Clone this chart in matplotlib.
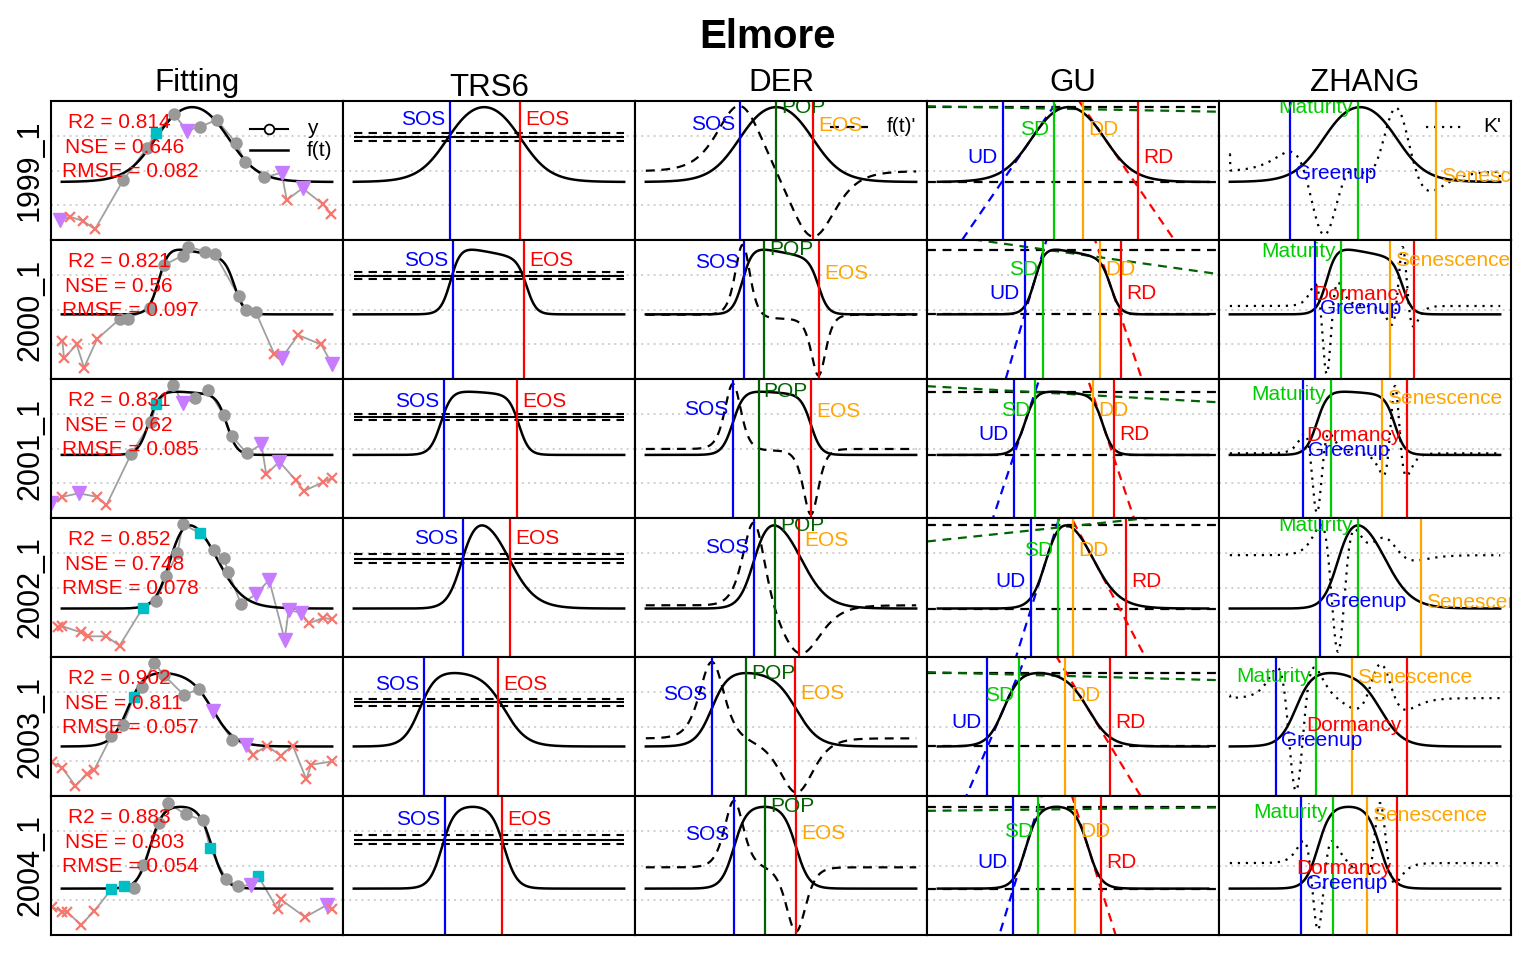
import numpy as np
import matplotlib
matplotlib.use("Agg")
import matplotlib.pyplot as plt
from matplotlib.transforms import offset_copy

plt.rcParams["font.family"] = ["Liberation Sans", "DejaVu Sans"]

years = ["1999_1", "2000_1", "2001_1", "2002_1", "2003_1", "2004_1"]
methods = ["Fitting", "TRS6", "DER", "GU", "ZHANG"]

# Elmore double-logistic parameters, one value per season
mn = [0.334, 0.372, 0.363, 0.279, 0.285, 0.267]
mx = [0.512, 0.400, 0.377, 0.585, 0.445, 0.478]
sos = [127.0, 131.0, 117.7, 146.0, 89.4, 119.0]
rsp = [20.0, 6.7, 7.3, 10.0, 11.0, 8.5]
eos = [225.0, 233.5, 223.0, 209.0, 204.0, 202.8]
rau = [20.0, 6.5, 6.8, 18.0, 15.0, 8.8]
m7 = [0.0, 0.0008, 0.0003, 0.0, 0.00025, 0.0]

# goodness of fit
r2 = ["0.814", "0.821", "0.831", "0.852", "0.902", "0.883"]
nse = ["0.646", "0.56", "0.62", "0.748", "0.811", "0.803"]
rmse = ["0.082", "0.097", "0.085", "0.078", "0.057", "0.054"]

# observations (day in season, value, qc: G good, M marginal, S snow, C cloud)
obs_t = [
    [-2, 11, 29, 44.8, 83, 114.6, 127, 151.5, 168.6, 186.6, 209, 235, 247.3,
     273.4, 296.8, 303.6, 325, 352, 364],
    [0.8, 3, 20, 30, 47.6, 78, 89, 119, 138, 163, 171, 193.5, 207, 238.6,
     248.5, 262, 287, 297, 319, 350, 365],
    [-14.6, 0.8, 22.8, 47.6, 60.3, 93.3, 120.8, 127.4, 150.6, 163.2, 179.7,
     197.9, 218.3, 229.3, 249.7, 269.5, 276, 293.7, 315.7, 326.7, 352, 365],
    [-4.7, 0.8, 25.6, 35.5, 60.3, 77.9, 109.3, 127.4, 141.2, 156, 163.2, 186.9,
     205.6, 218.3, 224.9, 242, 262.3, 279.9, 300.8, 306.3, 322.9, 333.8, 353,
     365.2],
    [-13, 0.8, 18.4, 33.9, 43.8, 66.9, 82.3, 97.2, 108.2, 124.7, 137.4, 164.9,
     185.3, 204.5, 229.3, 248.5, 258.4, 277.1, 295.3, 311.8, 330, 336.6, 365.2],
    [-13, 0, 7.4, 25.6, 43.8, 66.9, 84.5, 97.2, 109.8, 131.8, 142.8, 167.1,
     190.7, 200.1, 222.1, 237.5, 255.1, 265, 291.5, 295.3, 328.4, 357.6, 365.2],
]
obs_y = [
    [0.115, 0.134, 0.109, 0.062, 0.345, 0.528, 0.618, 0.725, 0.629, 0.652,
     0.691, 0.560, 0.451, 0.361, 0.387, 0.230, 0.298, 0.207, 0.150],
    [0.218, 0.119, 0.199, 0.065, 0.230, 0.345, 0.345, 0.410, 0.656, 0.710,
     0.762, 0.733, 0.717, 0.478, 0.395, 0.383, 0.142, 0.122, 0.253, 0.199, 0.084],
    [0.084, 0.122, 0.142, 0.122, 0.074, 0.366, 0.554, 0.654, 0.765, 0.660,
     0.689, 0.737, 0.593, 0.472, 0.372, 0.424, 0.251, 0.324, 0.218, 0.155,
     0.205, 0.232],
    [0.174, 0.177, 0.142, 0.119, 0.119, 0.065, 0.282, 0.323, 0.465, 0.596,
     0.765, 0.712, 0.615, 0.570, 0.489, 0.304, 0.362, 0.444, 0.100, 0.269,
     0.255, 0.193, 0.226, 0.216],
    [0.193, 0.160, 0.058, 0.128, 0.151, 0.345, 0.407, 0.567, 0.626, 0.767,
     0.697, 0.581, 0.616, 0.490, 0.325, 0.296, 0.238, 0.290, 0.232, 0.290,
     0.097, 0.180, 0.199],
    [0.161, 0.134, 0.134, 0.057, 0.138, 0.263, 0.282, 0.272, 0.403, 0.646,
     0.762, 0.694, 0.660, 0.499, 0.320, 0.282, 0.287, 0.339, 0.147, 0.205,
     0.103, 0.172, 0.147],
]
obs_qc = [
    "SCCCGGMGSGGGGGSCSCC",
    "CCCCCGGGGGGGGGGGCSCCS",
    "SCSCCGGMGSGGGGGSCSCCCC",
    "CCCCCCMGGGGMGGGGSSSSSCCC",
    "CCCCCGGMGGGGGSGSCCCCCCC",
    "CCCCCMMGGGGGGMGGSMCCCSC",
]

# phenological dates
trs_sos = [129.9, 134.2, 121.5, 148.0, 94.5, 123.1]
trs_eos = [224.4, 230.0, 220.7, 211.3, 194.7, 200.3]
der_sos = [127.2, 132.6, 117.7, 146.0, 89.4, 119.0]
der_pop = [175.8, 159.6, 152.4, 174.4, 135.3, 160.7]
der_eos = [225.7, 233.8, 223.0, 206.7, 201.3, 203.0]
gu_ud = [88.0, 117.7, 102.9, 125.8, 66.4, 101.5]
gu_sd = [156.9, 142.0, 131.2, 162.3, 109.6, 135.3]
gu_dd = [196.0, 219.0, 209.5, 182.5, 171.7, 185.2]
gu_rd = [270.0, 247.3, 237.9, 254.1, 232.4, 220.3]
zh_greenup = [81.3, 115.0, 98.8, 121.8, 62.4, 96.1]
zh_maturity = [173.0, 150.0, 136.6, 173.0, 116.4, 139.3]
zh_senescence = [278.4, 216.3, 205.5, 258.1, 165.0, 185.0]
zh_dormancy = [np.nan, 248.7, 239.2, np.nan, 239.2, 225.7]

QC_STYLE = {
    "G": dict(marker="o", color="#999999", ms=8, ls="none"),
    "M": dict(marker="s", color="#00BFC4", ms=6.8, ls="none"),
    "S": dict(marker="v", color="#C77CFF", ms=9.5, ls="none"),
    "C": dict(marker="x", color="#F8766D", ms=7.5, mew=1.6, ls="none"),
}
DASH = (0, (4, 3))
DOT = (0, (1, 2.6))
GREEN3 = "#00CD00"
DKGREEN = "#006400"
ORANGE = "#FFA500"

W, H = 1536, 960
fig = plt.figure(figsize=(W / 100, H / 100), dpi=100)
col_x = [51, 343, 635, 927, 1219]
row_y = [101, 240, 379, 518, 657, 796]
pw, ph = 292, 139
xlim = (-14.6, 379.6)
t = np.linspace(0, 365, 1461)


def elmore(tt, i):
    amp = mx[i] - m7[i] * (tt - sos[i])
    up = 1 / (1 + np.exp(-(tt - sos[i]) / rsp[i]))
    down = 1 / (1 + np.exp(-(tt - eos[i]) / rau[i]))
    return mn[i] + amp * (up - down)


def rescale(v, lo, hi):
    return lo + (v - v.min()) / (v.max() - v.min()) * (hi - lo)


def panel(r, c):
    ax = fig.add_axes([col_x[c] / W, 1 - (row_y[r] + ph) / H, pw / W, ph / H])
    ax.set_xlim(xlim)
    ax.set_ylim(0, 0.8)
    ax.set_xticks([])
    ax.set_yticks([])
    for s in ax.spines.values():
        s.set_linewidth(1.5)
        s.set_zorder(8)
    for g in (0.2, 0.4, 0.6):
        ax.axhline(g, color="#c8c8c8", lw=1.2, ls=(0, (1.2, 2.5)), zorder=0)
    return ax


def label(ax, x, y, s, color, side):
    tr = offset_copy(ax.transData, fig=fig, x=3.6 * side, y=0, units="points")
    ax.text(x, y, s, color=color, fontsize=15, ha="right" if side < 0 else "left",
            va="center", transform=tr, clip_on=True, zorder=6)


def vline(ax, x, color):
    ax.axvline(x, color=color, lw=1.6, zorder=4)


for r in range(6):
    f = elmore(t, r)
    d1 = np.gradient(f, t)
    d2 = np.gradient(d1, t)
    k = d2 / (1 + d1 ** 2) ** 1.5
    dk = np.gradient(k, t)
    base, top = f.min(), f.max()
    A = top - base
    fy = lambda d: np.interp(d, t, f)

    # --- Fitting
    ax = panel(r, 0)
    ax.plot(obs_t[r], obs_y[r], color="#a0a0a0", lw=1.3, zorder=2)
    ax.plot(t, f, color="k", lw=1.8, zorder=3)
    qc = np.array(list(obs_qc[r]))
    tt, yy = np.array(obs_t[r]), np.array(obs_y[r])
    for q, st in QC_STYLE.items():
        m = qc == q
        ax.plot(tt[m], yy[m], zorder=5, **st)
    for x, y, s in [(0.058, 0.842, "R2 = " + r2[r]),
                    (0.048, 0.662, "NSE = " + nse[r]),
                    (0.038, 0.49, "RMSE = " + rmse[r])]:
        ax.text(x, y, s, transform=ax.transAxes, color="red", fontsize=15,
                ha="left", va="center", zorder=10)
    if r == 0:
        ax.plot([0.682, 0.812], [0.80, 0.80], color="k", lw=1.5, transform=ax.transAxes)
        ax.plot([0.747], [0.80], "o", mfc="white", mec="k", ms=7, mew=1.3,
                transform=ax.transAxes)
        ax.plot([0.682, 0.812], [0.645, 0.645], color="k", lw=1.8, transform=ax.transAxes)
        ax.text(0.877, 0.80, "y", transform=ax.transAxes, fontsize=15, va="center")
        ax.text(0.877, 0.645, "f(t)", transform=ax.transAxes, fontsize=15, va="center")

    # --- TRS6
    ax = panel(r, 1)
    ax.plot(t, f, color="k", lw=1.8, zorder=3)
    trs = base + 0.6 * A
    ax.hlines(trs, t[0], t[-1], color="k", lw=1.5, zorder=3)
    ax.hlines([trs - 0.05 * A, trs + 0.05 * A], t[0], t[-1], color="k", lw=1.5,
              linestyles=[DASH], zorder=3)
    vline(ax, trs_sos[r], "blue")
    vline(ax, trs_eos[r], "red")
    label(ax, trs_sos[r], base + 0.84 * A, "SOS", "blue", -1)
    label(ax, trs_eos[r], base + 0.84 * A, "EOS", "red", 1)

    # --- DER
    ax = panel(r, 2)
    ax.plot(t, f, color="k", lw=1.8, zorder=3)
    ax.plot(t, rescale(d1, 0.02, 0.772), color="k", lw=1.6, ls=DASH, zorder=3)
    vline(ax, der_sos[r], "blue")
    vline(ax, der_pop[r], DKGREEN)
    vline(ax, der_eos[r], "red")
    label(ax, der_sos[r], fy(der_sos[r]) + 0.075, "SOS", "blue", -1)
    label(ax, der_pop[r], fy(der_pop[r]), "POP", DKGREEN, 1)
    label(ax, der_eos[r], fy(der_eos[r]) + 0.08, "EOS", ORANGE, 1)
    if r == 0:
        ax.plot([0.668, 0.798], [0.815, 0.815], color="k", lw=1.6, ls=DASH,
                transform=ax.transAxes)
        ax.text(0.863, 0.815, "f(t)'", transform=ax.transAxes, fontsize=15, va="center")

    # --- GU
    ax = panel(r, 3)
    ax.plot(t, f, color="k", lw=1.8, zorder=3)
    ax.axhline(base, color="k", lw=1.6, ls=DASH, zorder=2)
    ax.axhline(top, color="k", lw=1.6, ls=DASH, zorder=2)
    xx = np.array(xlim)
    i1, i2 = np.argmax(d1), np.argmin(d1)
    ax.plot(xx, f[i1] + d1[i1] * (xx - t[i1]), color="blue", lw=1.6, ls=DASH, zorder=2)
    ax.plot(xx, f[i2] + d1[i2] * (xx - t[i2]), color="red", lw=1.6, ls=DASH, zorder=2)
    m = (t >= gu_sd[r]) & (t <= gu_dd[r])
    p = np.polyfit(t[m], f[m], 1)
    ax.plot(xx, np.polyval(p, xx), color=DKGREEN, lw=1.6, ls=DASH, zorder=2)
    vline(ax, gu_ud[r], "blue")
    vline(ax, gu_sd[r], GREEN3)
    vline(ax, gu_dd[r], ORANGE)
    vline(ax, gu_rd[r], "red")
    label(ax, gu_ud[r], base + 0.32 * A, "UD", "blue", -1)
    label(ax, gu_sd[r], base + 0.70 * A, "SD", GREEN3, -1)
    label(ax, gu_dd[r], base + 0.70 * A, "DD", ORANGE, 1)
    label(ax, gu_rd[r], base + 0.32 * A, "RD", "red", 1)

    # --- ZHANG
    ax = panel(r, 4)
    ax.plot(t, f, color="k", lw=1.8, zorder=3)
    ax.plot(t, rescale(dk, 0.03, 0.76), color="k", lw=1.6, ls=DOT, zorder=3)
    vline(ax, zh_greenup[r], "blue")
    vline(ax, zh_maturity[r], GREEN3)
    vline(ax, zh_senescence[r], ORANGE)
    if not np.isnan(zh_dormancy[r]):
        vline(ax, zh_dormancy[r], "red")
        label(ax, zh_dormancy[r], fy(zh_dormancy[r]) + 0.085, "Dormancy", "red", -1)
    label(ax, zh_greenup[r], fy(zh_greenup[r]), "Greenup", "blue", 1)
    label(ax, zh_maturity[r], fy(zh_maturity[r]), "Maturity", GREEN3, -1)
    label(ax, zh_senescence[r], fy(zh_senescence[r]), "Senescence", ORANGE, 1)
    if r == 0:
        ax.plot([0.709, 0.839], [0.815, 0.815], color="k", lw=1.6, ls=DOT,
                transform=ax.transAxes)
        ax.text(0.904, 0.815, "K'", transform=ax.transAxes, fontsize=15, va="center")

    fig.text(30 / W, 1 - (row_y[r] + ph / 2) / H, years[r], rotation=90,
             fontsize=22, ha="center", va="center")

for c, name in enumerate(methods):
    base_y = 96 if name == "TRS6" else 91
    fig.text((col_x[c] + pw / 2) / W, 1 - base_y / H, name, fontsize=22.5,
             ha="center", va="baseline")

fig.text(768 / W, 1 - 37 / H, "Elmore", fontsize=29, fontweight="bold",
         ha="center", va="center")

fig.savefig("out.png", dpi=100)
